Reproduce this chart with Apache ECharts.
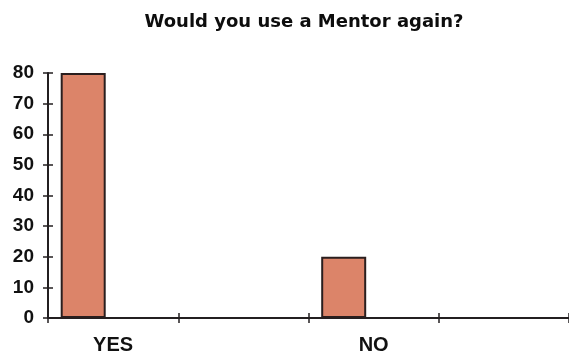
<!DOCTYPE html>
<html>
<head>
<meta charset="utf-8">
<script src="https://cdn.jsdelivr.net/npm/echarts@6/dist/echarts.min.js"></script>
<style>
  html, body { margin: 0; padding: 0; background: #fff; }
  #chart { width: 569px; height: 356px; }
</style>
</head>
<body>
<div id="chart"></div>
<script>
// Survey answers: "Would you use a Mentor again?"
const categories = ['YES', '', 'NO', ''];
const responses = [80, null, 20, null];
const emptySeries = [null, null, null, null];
const yMin = 0;
const yMax = 80;
const yStep = 10;

const chart = echarts.init(document.getElementById('chart'), null, { renderer: 'canvas' });

const axisColor = '#231f20';
const labelFont = {
  color: '#111',
  fontFamily: '"Liberation Sans", Arial, sans-serif',
  fontWeight: 'bold'
};

chart.setOption({
  backgroundColor: '#ffffff',
  animation: false,
  title: {
    text: 'Would you use a Mentor again?',
    left: 304,
    top: 13,
    padding: 0,
    textAlign: 'center',
    textStyle: {
      fontFamily: '"DejaVu Sans", sans-serif',
      fontWeight: 'bold',
      fontSize: 18,
      color: '#0d0d0d'
    }
  },
  grid: { left: 48, right: 0, top: 73, bottom: 38 },
  xAxis: [
    {
      type: 'category',
      data: categories,
      axisLine: { lineStyle: { color: axisColor, width: 2 } },
      axisTick: { show: true, length: 5, inside: false, lineStyle: { color: axisColor, width: 1.5 } },
      axisLabel: Object.assign({ interval: 0, fontSize: 20, margin: 17 }, labelFont)
    },
    {
      type: 'category',
      position: 'bottom',
      data: categories,
      axisLine: { show: false },
      axisTick: { show: true, length: 5, inside: true, lineStyle: { color: axisColor, width: 1.5 } },
      axisLabel: { show: false }
    }
  ],
  yAxis: [
    {
      type: 'value',
      min: yMin,
      max: yMax,
      interval: yStep,
      axisLine: { show: true, lineStyle: { color: axisColor, width: 2 } },
      axisTick: { show: true, length: 5, lineStyle: { color: axisColor, width: 1.5 } },
      splitLine: { show: false },
      axisLabel: Object.assign({ fontSize: 19, margin: 14 }, labelFont)
    },
    {
      type: 'value',
      position: 'left',
      min: yMin,
      max: yMax,
      interval: yStep,
      axisLine: { show: false },
      axisTick: { show: true, inside: true, length: 5, lineStyle: { color: axisColor, width: 1.5 } },
      splitLine: { show: false },
      axisLabel: { show: false }
    }
  ],
  series: [
    {
      name: 'Responses',
      type: 'bar',
      data: responses,
      barWidth: 45,
      barGap: '33%',
      itemStyle: { color: '#dc8469', borderColor: '#2a1e1e', borderWidth: 2 }
    },
    {
      name: 'Spacer',
      type: 'bar',
      data: emptySeries,
      barWidth: 45
    }
  ]
});
</script>
</body>
</html>
